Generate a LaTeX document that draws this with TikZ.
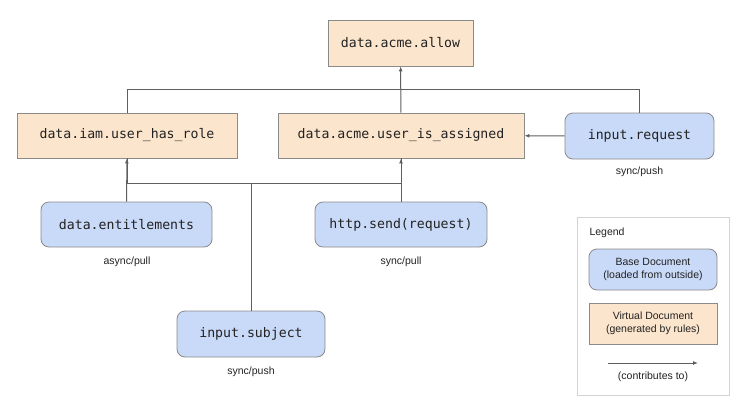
\documentclass[tikz,border=0pt]{standalone}
\usepackage{fontspec}
\setmainfont{Liberation Sans}
\setmonofont{DejaVu Sans Mono}
\usetikzlibrary{arrows.meta}
\definecolor{virtfill}{HTML}{FCE5CD}
\definecolor{basefill}{HTML}{C9DAF8}
\definecolor{boxline}{HTML}{8A8A8A}
\definecolor{wire}{HTML}{5F5F5F}
\definecolor{legline}{HTML}{D3D3D3}
\definecolor{ink}{HTML}{222222}
\begin{document}
\begin{tikzpicture}[x=1pt,y=-1pt,
    doc/.style={draw=boxline,line width=0.8pt,inner sep=0pt,text=ink,
      font=\fontsize{13.2}{15}\ttfamily},
    virtual/.style={doc,fill=virtfill},
    base/.style={doc,fill=basefill,rounded corners=8pt},
    mode/.style={font=\fontsize{10.5}{12.5}\selectfont,text=ink},
    legdoc/.style={draw=boxline,line width=0.8pt,minimum width=128pt,
      minimum height=41pt,align=center,text=ink,
      font=\fontsize{10.5}{12.5}\selectfont},
    wire/.style={draw=wire,line width=1pt},
    feed/.style={wire,-{Latex[length=5pt,width=4pt]}}]
  \useasboundingbox (0,0) rectangle (750,415);
  \draw
    (400.5,43) node[virtual,minimum width=145pt,minimum height=46pt] (allow){data.acme.allow}
    (127,135.5) node[virtual,minimum width=220pt,minimum height=45pt] (role){data.iam.user\_has\_role}
    (401,135.5) node[virtual,minimum width=246pt,minimum height=45pt] (assigned){data.acme.user\_is\_assigned}
    (639.5,136) node[base,minimum width=149pt,minimum height=46pt] (request){input.request}
    (126.5,224.5) node[base,minimum width=171pt,minimum height=45pt] (entitle){data.entitlements}
    (401,224.5) node[base,minimum width=172pt,minimum height=45pt] (http){http.send(request)}
    (251,334) node[base,minimum width=148pt,minimum height=46pt] (subject){input.subject};
  \draw
    (639.5,172) node[mode] (requestmode){sync/push}
    (127,262) node[mode] (entitlemode){async/pull}
    (401,262) node[mode] (httpmode){sync/pull}
    (251,372) node[mode] (subjectmode){sync/push};
  \coordinate (topbus) at (401,89);
  \coordinate (lowbus) at (251,183);
  \begin{scope}
    \draw[feed] (assigned) to (allow);
    \draw[wire] (role.north) |- (topbus);
    \draw[wire] (request.north) |- (topbus);
    \draw[feed] (request) to (assigned);
    \draw[feed] (entitle) to (role);
    \draw[feed] (http) to (assigned);
    \draw[wire] (subject.north) -- (lowbus);
    \draw[wire] (lowbus) -| (role.south);
    \draw[wire] (lowbus) -| (assigned.south);
  \end{scope}
  \draw[legline,line width=0.8pt,fill=white] (577,217) rectangle (729,395);
  \draw
    (586,233) node[anchor=west,mode] (legend){Legend}
    (653,269.5) node[legdoc,fill=basefill,rounded corners=8pt] (legbase){Base Document\\(loaded from outside)}
    (653,323.5) node[legdoc,fill=virtfill] (legvirt){Virtual Document\\(generated by rules)}
    (653,377) node[mode] (legfeed){(contributes to)};
  \coordinate (legfrom) at (608,363);
  \coordinate (legto) at (698,363);
  \draw[feed] (legfrom) -- (legto);
\end{tikzpicture}
\end{document}
